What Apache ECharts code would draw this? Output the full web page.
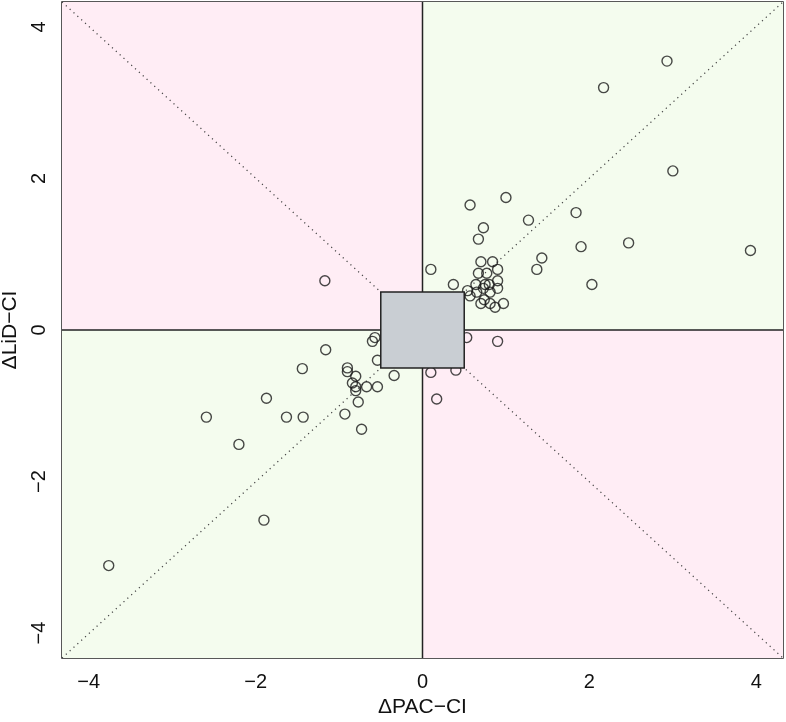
<!DOCTYPE html>
<html>
<head>
<meta charset="utf-8">
<script src="https://cdn.jsdelivr.net/npm/echarts@6/dist/echarts.min.js"></script>
<style>
html,body{margin:0;padding:0;background:#fff;}
#chart{width:786px;height:722px;}
</style>
</head>
<body>
<div id="chart"></div>
<script>
// ---- data ----
const XLIM = 4.32;
const YLIM = 4.33;
const tickValues = [-4, -2, 0, 2, 4];
const boxHalf = 0.5;
const xName = 'ΔPAC−CI';
const yName = 'ΔLiD−CI';

const xVals = [
  2.93, 2.17, 3.00, 1.84, 1.27, 1.90, 2.47, 3.93, 1.43, 1.37, 2.03,
  1.00, 0.57, 0.73, 0.67, 0.10, 0.70, 0.84, 0.90, 0.67, 0.77, 0.90,
  0.37, 0.64, 0.75, 0.80, 0.90, 0.54, 0.57, 0.65, 0.81, 0.73, 0.74,
  0.70, 0.81, 0.87, 0.97,
  0.53, 0.90, 0.10, 0.40, 0.17,
  -1.17,
  -0.57, -0.60, -1.16, -0.54, -1.44, -0.90, -0.90, -0.34, -0.80, -0.84,
  -0.80, -0.80, -0.67, -0.54, -1.87, -0.77, -2.59, -1.63, -1.43, -0.93,
  -0.73, -2.20, -1.90, -3.76
];
const yVals = [
  3.55, 3.20, 2.10, 1.55, 1.45, 1.10, 1.15, 1.05, 0.95, 0.80, 0.60,
  1.75, 1.65, 1.35, 1.20, 0.80, 0.90, 0.90, 0.80, 0.75, 0.75, 0.65,
  0.60, 0.60, 0.60, 0.60, 0.55, 0.52, 0.45, 0.50, 0.50, 0.55, 0.40,
  0.35, 0.35, 0.30, 0.35,
  -0.10, -0.15, -0.56, -0.53, -0.91,
  0.65,
  -0.10, -0.15, -0.26, -0.40, -0.51, -0.50, -0.55, -0.60, -0.61, -0.70,
  -0.75, -0.80, -0.75, -0.75, -0.90, -0.95, -1.15, -1.15, -1.15, -1.11,
  -1.31, -1.51, -2.51, -3.11
];

// quadrant rectangles: [x0, y0, x1, y1, kind]  (kind 0 = agree, 1 = disagree)
const quadrants = [
  [-XLIM, 0, 0, YLIM, 1],
  [0, 0, XLIM, YLIM, 0],
  [-XLIM, -YLIM, 0, 0, 0],
  [0, -YLIM, XLIM, 0, 1]
];
const quadColors = ['#F4FCEE', '#FFEDF5'];

const points = xVals.map((x, i) => [x, yVals[i]]);

const chart = echarts.init(document.getElementById('chart'), null, {renderer: 'canvas'});
const FONT = 'Liberation Sans, Arial, Helvetica, sans-serif';

function rectItem(params, api) {
  const p0 = api.coord([api.value(0), api.value(1)]);
  const p1 = api.coord([api.value(2), api.value(3)]);
  return {
    x: Math.min(p0[0], p1[0]), y: Math.min(p0[1], p1[1]),
    w: Math.abs(p1[0] - p0[0]), h: Math.abs(p1[1] - p0[1])
  };
}

const option = {
  animation: false,
  grid: {
    left: 62, top: 2, width: 721, height: 656,
    outerBoundsMode: 'none', containLabel: false,
    show: true, borderColor: '#222', borderWidth: 1.5, backgroundColor: 'transparent'
  },
  xAxis: {
    type: 'value', min: -XLIM, max: XLIM,
    name: xName, nameLocation: 'middle', nameGap: 37,
    nameTextStyle: {fontFamily: FONT, fontSize: 21, color: '#111'},
    axisLine: {show: false},
    splitLine: {show: false},
    axisTick: {show: true, length: 7, customValues: tickValues, lineStyle: {color: '#222', width: 1.2}},
    axisLabel: {customValues: tickValues, margin: 14, fontFamily: FONT, fontSize: 20, color: '#111',
      formatter: v => String(v).replace('-', '−')}
  },
  yAxis: {
    type: 'value', min: -YLIM, max: YLIM,
    name: yName, nameLocation: 'middle', nameGap: 34, nameRotate: 90,
    nameTextStyle: {fontFamily: FONT, fontSize: 21, color: '#111'},
    axisLine: {show: false},
    splitLine: {show: false},
    axisTick: {show: true, length: 7, customValues: tickValues, lineStyle: {color: '#222', width: 1.2}},
    axisLabel: {customValues: tickValues, rotate: 90, margin: 13, fontFamily: FONT, fontSize: 20, color: '#111',
      formatter: v => String(v).replace('-', '−')}
  },
  series: [
    {
      type: 'custom', z: 1, silent: true, clip: true,
      data: quadrants,
      renderItem: function (params, api) {
        const r = rectItem(params, api);
        return {type: 'rect', shape: {x: r.x, y: r.y, width: r.w, height: r.h},
          style: {fill: quadColors[api.value(4)]}};
      }
    },
    {
      type: 'line', z: 2, silent: true, symbol: 'none',
      data: [[-XLIM, -YLIM], [XLIM, YLIM]],
      lineStyle: {color: '#444', width: 1.2, type: [1.2, 4]}
    },
    {
      type: 'line', z: 2, silent: true, symbol: 'none',
      data: [[-XLIM, YLIM], [XLIM, -YLIM]],
      lineStyle: {color: '#444', width: 1.2, type: [1.2, 4]}
    },
    {
      type: 'line', z: 3, silent: true, symbol: 'none',
      data: [[-XLIM, 0], [XLIM, 0]],
      lineStyle: {color: '#222', width: 1.5}
    },
    {
      type: 'line', z: 3, silent: true, symbol: 'none',
      data: [[0, -YLIM], [0, YLIM]],
      lineStyle: {color: '#222', width: 1.5}
    },
    {
      type: 'scatter', z: 4, silent: true,
      data: points, symbol: 'circle', symbolSize: 10,
      itemStyle: {color: 'rgba(0,0,0,0)', borderColor: '#1a1a1a', borderWidth: 1.4}
    },
    {
      type: 'custom', z: 5, silent: true,
      data: [[-boxHalf, -boxHalf, boxHalf, boxHalf]],
      renderItem: function (params, api) {
        const r = rectItem(params, api);
        return {type: 'rect', shape: {x: r.x, y: r.y, width: r.w, height: r.h},
          style: {fill: '#C9CED3', stroke: '#222', lineWidth: 1.5}};
      }
    }
  ]
};
chart.setOption(option);
</script>
</body>
</html>
